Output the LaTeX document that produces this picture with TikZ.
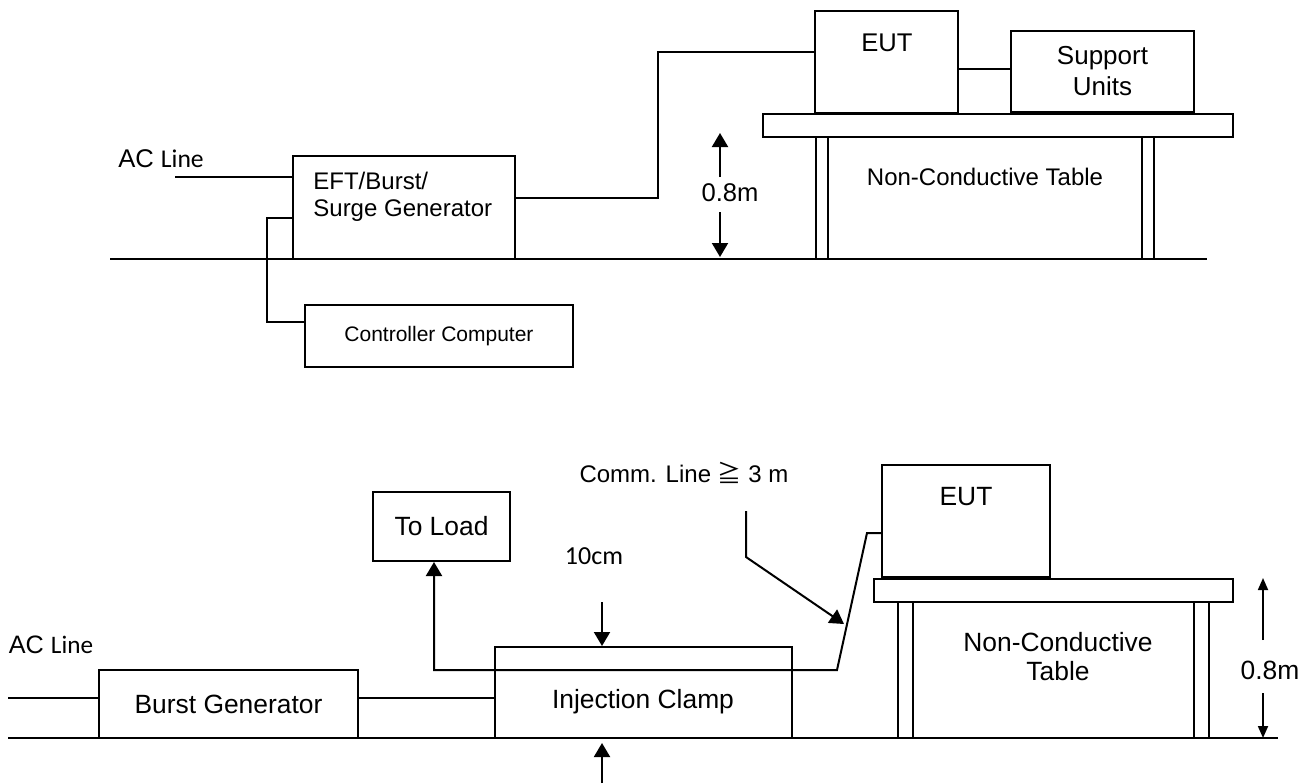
\documentclass[tikz,border=0pt]{standalone}
\usepackage{fontspec}
\setmainfont{Liberation Sans}
\newfontfamily\calib{Carlito}
\newfontfamily\cjk{Noto Sans CJK SC}
\usetikzlibrary{arrows.meta}

\tikzset{
  box/.style={draw, line width=1pt, inner sep=0pt},
  lbl/.style={inner sep=0pt, font=\fontsize{12}{14}\selectfont},
  lblb/.style={inner sep=0pt, font=\fontsize{13.2}{14.5}\selectfont},
  wire/.style={line width=1pt},
  dimarrow/.style={line width=1pt, -{Triangle[length=7pt,width=8pt]}},
  dimsmall/.style={line width=0.9pt, -{Triangle[length=6pt,width=5pt]}},
}

\begin{document}
\begin{tikzpicture}[x=0.5pt, y=-0.5pt]
  \useasboundingbox (0,0) rectangle (1312,783);

  \node[box, minimum width=111pt, minimum height=51.5pt] (gen) at (404,207.5) {};
  \node[lbl, anchor=west, align=left, font=\fontsize{12}{13.5}\selectfont] (gentxt) at (313,196.5) {EFT/Burst/\\Surge Generator};
  \node[box, minimum width=134pt, minimum height=31pt, font=\fontsize{10.5}{12}\selectfont] (ctrl) at (439,336) {Controller Computer};
  \node[box, minimum width=71.5pt, minimum height=51pt] (eutA) at (886.5,62) {};
  \node[lbl, font=\fontsize{12.8}{14}\selectfont] (eutAtxt) at (887,43) {EUT};
  \node[box, minimum width=91.5pt, minimum height=40.5pt, align=center, font=\fontsize{13}{15.5}\selectfont] (supp) at (1102.5,71.5) {Support\\Units};
  \node[box, minimum width=235pt, minimum height=11.5pt] (topA) at (998,125.5) {};
  \node[box, minimum width=6pt, minimum height=61pt] (legA1) at (822,198) {};
  \node[box, minimum width=6pt, minimum height=61pt] (legA2) at (1148,198) {};
  \node[lbl] (tabAtxt) at (985,177) {Non-Conductive Table};
  \node[lbl, font=\fontsize{12.8}{14}\selectfont] (htA) at (730,193) {0.8m};
  \node[lbl, font=\fontsize{12.8}{14}\selectfont] (acA) at (161,159) {AC {\calib Line}};

  \coordinate (gA1) at (110,259);
  \coordinate (gA2) at (1207,259);
  \coordinate (acA0) at (175,177);
  \draw[wire] (gA1) -- (gA2);
  \draw[wire] (acA0) -- (acA0 -| gen.west);
  \draw[wire] (gen.east |- 0,198) -- (658,198) |- (eutA.west |- 0,52);
  \draw[wire] (gen.west |- 0,218) -- (267,218) |- (ctrl.west |- 0,322);
  \draw[wire] (eutA.east |- 0,69) -- (supp.west |- 0,69);
  \draw[dimarrow] (720,177) -- (720,133);
  \draw[dimarrow] (720,212) -- (720,257);

  \node[lbl, font=\fontsize{12.6}{14}\selectfont] (acB) at (51,645) {AC {\calib Line}};
  \node[box, lblb, minimum width=129.5pt, minimum height=34pt] (burst) at (228.5,704) {Burst Generator};
  \node[box, minimum width=148.5pt, minimum height=45.5pt] (clamp) at (643.5,692.5) {};
  \node[lblb] (clamptxt) at (643,702) {Injection Clamp};
  \node[box, lblb, minimum width=68.5pt, minimum height=34.5pt] (load) at (441.5,526.5) {To Load};
  \node[box, minimum width=84pt, minimum height=56pt] (eutB) at (966,521) {};
  \node[lblb] (eutBtxt) at (966,497) {EUT};
  \node[box, minimum width=179.5pt, minimum height=11.5pt] (topB) at (1053.5,590.5) {};
  \node[box, minimum width=7.5pt, minimum height=68pt] (legB1) at (905.5,670) {};
  \node[box, minimum width=7.5pt, minimum height=68pt] (legB2) at (1201.5,670) {};
  \node[lblb, align=center] (tabBtxt) at (1058,656.5) {Non-Conductive\\Table};
  \node[lblb] (htB) at (1270,670) {0.8m};
  \node[lbl, font=\fontsize{13}{14}\calib] (tencm) at (594,556) {10cm};
  \node[lbl] (comm) at (684,473) {Comm. Line {\cjk ≧} 3 m};

  \coordinate (gB1) at (8,738);
  \coordinate (gB2) at (1278,738);
  \coordinate (acB0) at (8,698);
  \coordinate (tap) at (434,670);
  \draw[wire] (gB1) -- (gB2);
  \draw[wire] (acB0) -- (acB0 -| burst.west);
  \draw[wire] (burst.east |- acB0) -- (clamp.west |- acB0);
  \draw[dimarrow] (eutB.west |- 0,533) -- (867,533) -- (837,670) -- (tap) -- (tap |- load.south);
  \draw[dimarrow] (602,602) -- (clamp.north -| 602,0);
  \draw[dimarrow] (602,783) -- (602,743);
  \draw[dimarrow] (746,511) -- (746,557) -- (844,624);
  \draw[dimsmall] (1263,640) -- (topB.north -| 1263,0);
  \draw[dimsmall] (1263,693) -- (1263,738);
\end{tikzpicture}
\end{document}
